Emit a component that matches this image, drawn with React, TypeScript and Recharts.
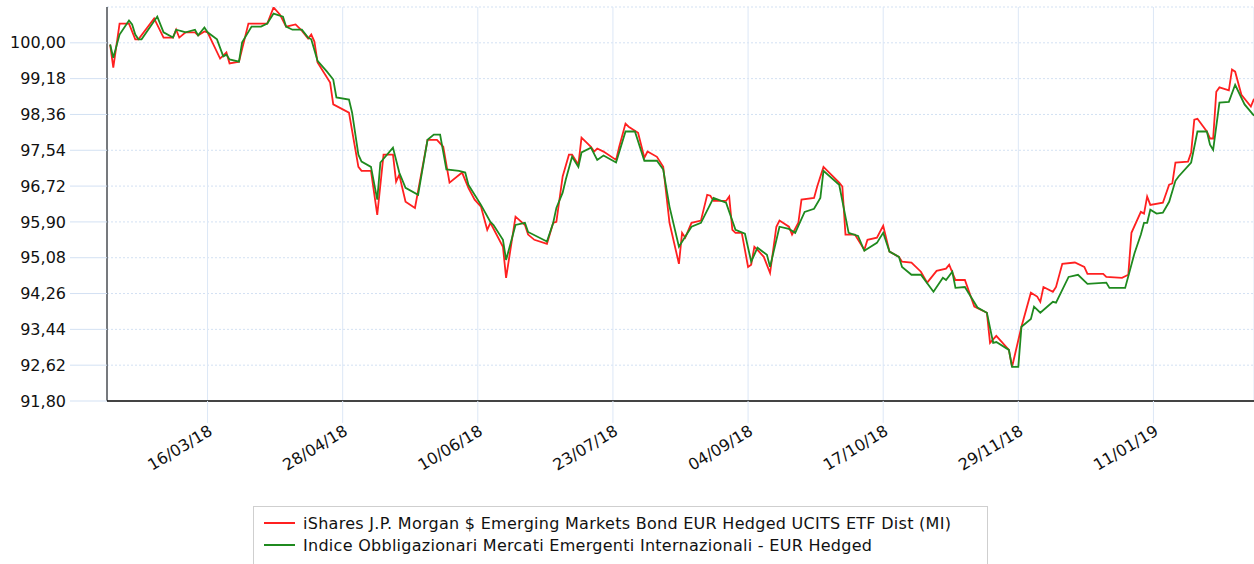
import { LineChart, Line, XAxis, YAxis, CartesianGrid } from 'recharts';

// giorni dal 12/02/2018
const START = Date.UTC(2018, 1, 12);
const DAY_MS = 86400000;

const dateTicks = [32, 75, 118, 161, 204, 247, 290, 333];
const valueTicks = [91.8, 92.62, 93.44, 94.26, 95.08, 95.9, 96.72, 97.54, 98.36, 99.18, 100];

const etfName = 'iShares J.P. Morgan $ Emerging Markets Bond EUR Hedged UCITS ETF Dist (MI)';
const indexName = 'Indice Obbligazionari Mercati Emergenti Internazionali - EUR Hedged';

const etfDays = [
  1, 2, 4, 7, 9, 10, 15, 18, 21, 22,
  23, 25, 28, 29, 31, 32, 36, 38, 39, 42,
  45, 51, 53, 55, 57, 60, 62, 64, 65, 66,
  67, 71, 72, 77, 80, 81, 84, 86, 88, 91,
  92, 93, 95, 98, 102, 105, 107, 109, 113, 115,
  117, 119, 121, 122, 126, 127, 130, 133, 134, 136,
  140, 142, 143, 145, 147, 148, 150, 151, 154, 155,
  156, 158, 162, 163, 165, 166, 169, 171, 172, 175,
  177, 179, 182, 183, 184, 186, 189, 191, 192, 193,
  197, 198, 199, 200, 202, 204, 205, 206, 207, 209,
  211, 213, 214, 217, 218, 220, 221, 225, 226, 228,
  233, 234, 235, 238, 241, 242, 245, 247, 249, 252,
  253, 256, 259, 261, 264, 267, 268, 270, 273, 276,
  280, 281, 283, 287, 288, 291, 294, 296, 297, 298,
  301, 302, 304, 308, 311, 312, 317, 318, 323, 325,
  326, 329, 330, 331, 332, 336, 338, 339, 340, 344,
  345, 346, 347, 350, 351, 352, 353, 354, 357, 358,
  359, 361, 364, 365,
];

const etfValues = [
  99.96, 99.43, 100.44, 100.44, 100.08, 100.08, 100.56, 100.12, 100.12, 100.3,
  100.12, 100.24, 100.24, 100.17, 100.26, 100.24, 99.64, 99.78, 99.53, 99.57,
  100.44, 100.44, 100.81, 100.65, 100.37, 100.42, 100.28, 100.1, 100.19, 100.03,
  99.55, 99.09, 98.59, 98.4, 97.16, 97.07, 97.07, 96.06, 97.44, 97.44,
  96.82, 96.98, 96.36, 96.22, 97.78, 97.78, 97.62, 96.8, 97.03, 96.68,
  96.41, 96.25, 95.72, 95.88, 95.33, 94.62, 96.02, 95.83, 95.61, 95.49,
  95.4, 95.88, 95.9, 96.94, 97.44, 97.44, 97.21, 97.83, 97.62, 97.51,
  97.58, 97.51, 97.32, 97.62, 98.15, 98.08, 97.94, 97.37, 97.51, 97.39,
  97.16, 95.88, 94.94, 95.65, 95.54, 95.88, 95.93, 96.52, 96.5, 96.38,
  96.38, 96.48, 95.72, 95.65, 95.65, 94.87, 94.92, 95.33, 95.26, 95.1,
  94.73, 95.79, 95.93, 95.79, 95.61, 95.88, 96.41, 96.45, 96.71, 97.16,
  96.8, 96.71, 95.61, 95.61, 95.26, 95.49, 95.54, 95.81, 95.22, 95.1,
  94.99, 94.97, 94.76, 94.51, 94.78, 94.83, 94.92, 94.57, 94.57, 93.96,
  93.82, 93.13, 93.29, 92.97, 92.58, 93.5, 94.28, 94.19, 94.07, 94.41,
  94.3, 94.41, 94.94, 94.97, 94.87, 94.71, 94.71, 94.64, 94.62, 94.69,
  95.65, 96.13, 96.09, 96.48, 96.29, 96.34, 96.75, 96.78, 97.26, 97.28,
  97.49, 98.24, 98.26, 97.97, 97.81, 97.81, 98.88, 98.98, 98.91, 99.39,
  99.34, 98.81, 98.54, 98.72,
];

const indexDays = [
  1, 2, 4, 7, 8, 9, 10, 11, 16, 18,
  21, 22, 24, 25, 28, 29, 31, 32, 35, 37,
  38, 39, 42, 43, 46, 49, 51, 53, 56, 57,
  59, 62, 64, 65, 67, 70, 72, 73, 77, 78,
  80, 81, 84, 86, 87, 91, 93, 95, 99, 102,
  104, 106, 108, 112, 114, 115, 119, 122, 123, 126,
  127, 130, 133, 134, 140, 142, 143, 145, 146, 148,
  150, 151, 154, 156, 158, 162, 165, 168, 171, 175,
  177, 179, 182, 186, 189, 193, 197, 200, 203, 205,
  207, 210, 211, 214, 217, 219, 222, 225, 227, 228,
  233, 236, 239, 241, 245, 247, 249, 252, 253, 256,
  259, 263, 266, 267, 269, 270, 273, 277, 280, 282,
  283, 287, 288, 290, 291, 294, 295, 297, 301, 302,
  306, 309, 312, 318, 319, 324, 327, 329, 330, 331,
  332, 334, 336, 338, 340, 341, 345, 347, 350, 351,
  352, 354, 357, 359, 362, 365,
];

const indexValues = [
  99.96, 99.66, 100.19, 100.51, 100.42, 100.19, 100.08, 100.08, 100.6, 100.24,
  100.12, 100.3, 100.26, 100.24, 100.3, 100.17, 100.35, 100.24, 100.08, 99.69,
  99.73, 99.62, 99.57, 100.01, 100.37, 100.37, 100.44, 100.67, 100.6, 100.37,
  100.3, 100.3, 100.12, 100.08, 99.59, 99.34, 99.16, 98.75, 98.7, 98.4,
  97.44, 97.28, 97.16, 96.41, 97.26, 97.6, 97.03, 96.68, 96.52, 97.78,
  97.9, 97.9, 97.1, 97.07, 97.03, 96.75, 96.29, 95.9, 95.83, 95.49,
  95.03, 95.83, 95.88, 95.67, 95.45, 95.88, 96.22, 96.57, 96.87, 97.39,
  97.16, 97.49, 97.6, 97.32, 97.42, 97.26, 97.97, 97.97, 97.3, 97.3,
  97.1, 96.25, 95.33, 95.79, 95.88, 96.45, 96.34, 95.72, 95.63, 94.99,
  95.31, 95.15, 94.87, 95.79, 95.74, 95.65, 96.13, 96.2, 96.45, 97.07,
  96.75, 95.65, 95.58, 95.24, 95.42, 95.65, 95.22, 95.1, 94.87, 94.69,
  94.69, 94.3, 94.62, 94.57, 94.76, 94.39, 94.41, 93.94, 93.82, 93.13,
  93.15, 92.97, 92.58, 92.58, 93.5, 93.68, 93.96, 93.82, 94.07, 94.05,
  94.64, 94.69, 94.48, 94.51, 94.39, 94.39, 95.19, 95.61, 95.88, 95.88,
  96.18, 96.09, 96.11, 96.36, 96.84, 96.94, 97.26, 97.97, 97.97, 97.67,
  97.55, 98.63, 98.65, 99.04, 98.59, 98.33,
];

const etfData = etfDays.map((day, i) => ({ day, value: etfValues[i] }));
const indexData = indexDays.map((day, i) => ({ day, value: indexValues[i] }));

// giorno -> dd/mm/yy
function formatDay(d: number): string {
  const dt = new Date(START + d * DAY_MS);
  const dd = String(dt.getUTCDate()).padStart(2, '0');
  const mm = String(dt.getUTCMonth() + 1).padStart(2, '0');
  const yy = String(dt.getUTCFullYear()).slice(2);
  return `${dd}/${mm}/${yy}`;
}

function DateTick(props: any) {
  const { x, y, payload } = props;
  const ax = x + 6;
  const ay = y + 11;
  return (
    <text
      x={ax}
      y={ay}
      transform={`rotate(-31 ${ax} ${ay})`}
      textAnchor="end"
      fill="#111"
      fontSize={16}
      fontFamily="DejaVu Sans"
    >
      {formatDay(payload.value)}
    </text>
  );
}

export default function App() {
  return (
    <div
      style={{
        position: 'absolute',
        left: 0,
        top: 0,
        width: 1254,
        height: 564,
        background: '#fff',
        fontFamily: 'DejaVu Sans',
        overflow: 'hidden',
      }}
    >
      <LineChart
        width={1254}
        height={564}
        margin={{ top: 7, right: 0, bottom: 0, left: 0 }}
      >
        <CartesianGrid horizontal vertical={false} stroke="#d3e1f3" strokeDasharray="2 2" />
        <CartesianGrid horizontal={false} vertical stroke="#dce7f6" />
        <XAxis
          type="number"
          dataKey="day"
          domain={[0, 365]}
          ticks={dateTicks}
          interval={0}
          height={163}
          tickSize={22}
          tickMargin={0}
          axisLine={{ stroke: '#444', strokeWidth: 2 }}
          tickLine={{ stroke: '#dce7f6' }}
          tick={<DateTick />}
        />
        <YAxis
          type="number"
          domain={[91.8, 100.82]}
          ticks={valueTicks}
          interval={0}
          width={107}
          tickSize={37}
          tickMargin={4}
          allowDataOverflow
          axisLine={{ stroke: '#000' }}
          tickLine={{ stroke: '#d3e1f3' }}
          tick={{ fill: '#111', fontSize: 16, fontFamily: 'DejaVu Sans' }}
          tickFormatter={(v: number) => v.toFixed(2).replace('.', ',')}
        />
        <Line
          data={etfData}
          dataKey="value"
          type="linear"
          stroke="#ff2020"
          strokeWidth={1.8}
          dot={false}
          isAnimationActive={false}
        />
        <Line
          data={indexData}
          dataKey="value"
          type="linear"
          stroke="#1f8a1f"
          strokeWidth={1.8}
          dot={false}
          isAnimationActive={false}
        />
      </LineChart>

      {/* legenda */}
      <div
        style={{
          position: 'absolute',
          left: 253,
          top: 506,
          width: 735,
          height: 70,
          border: '1px solid #cfcfcf',
          boxSizing: 'border-box',
          paddingTop: 5,
          fontSize: 16,
          letterSpacing: 0.28,
          color: '#111',
        }}
      >
        {[
          { name: etfName, color: '#ff2020' },
          { name: indexName, color: '#1f8a1f' },
        ].map((item) => (
          <div key={item.name} style={{ display: 'flex', alignItems: 'center', height: 22 }}>
            <span
              style={{
                display: 'inline-block',
                width: 31,
                height: 2,
                background: item.color,
                marginLeft: 10,
                marginRight: 8,
              }}
            />
            <span style={{ whiteSpace: 'nowrap' }}>{item.name}</span>
          </div>
        ))}
      </div>
    </div>
  );
}
